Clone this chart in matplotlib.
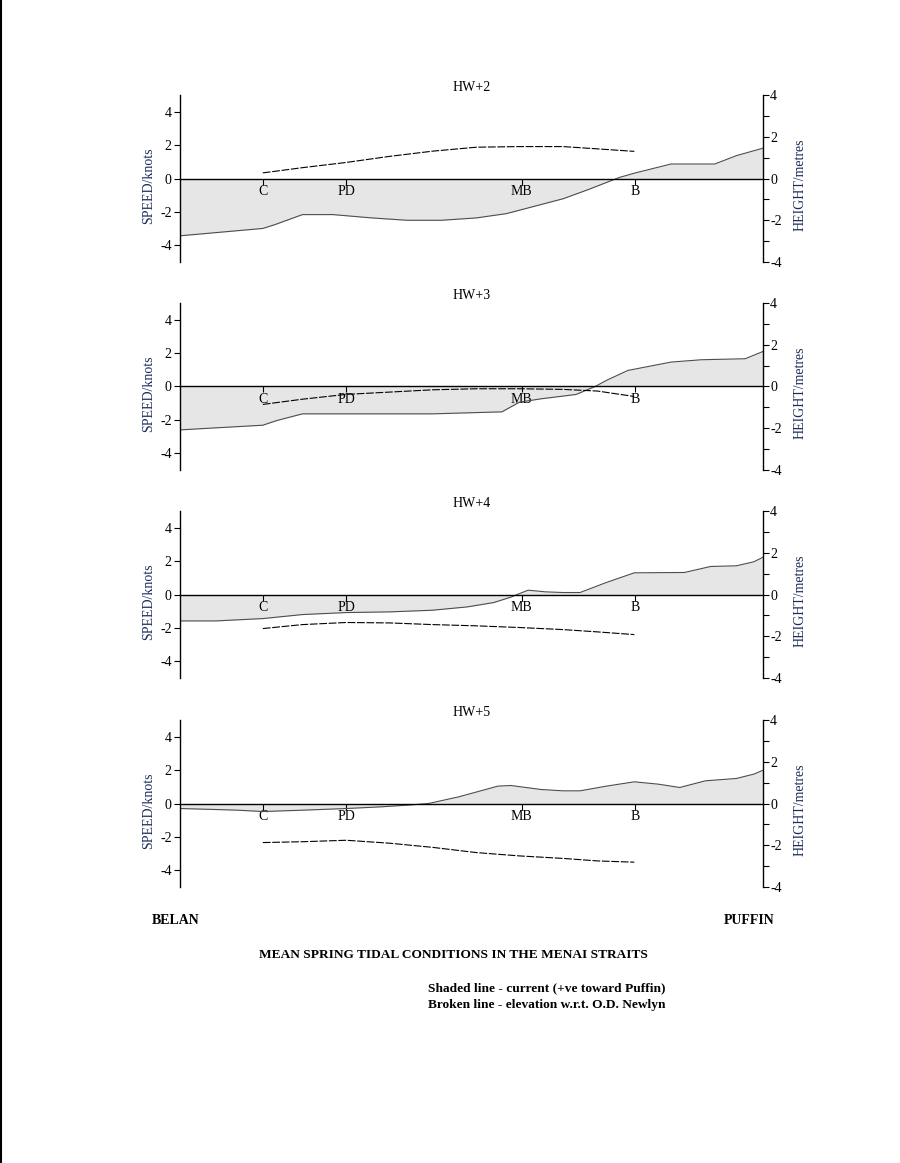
import matplotlib
matplotlib.use("Agg")
import matplotlib.pyplot as plt
from matplotlib.lines import Line2D

plt.rcParams["font.family"] = ["Liberation Serif", "DejaVu Serif"]
plt.rcParams["font.size"] = 10
plt.rcParams["axes.unicode_minus"] = False

# distance along the strait, 0 = Belan, 100 = Puffin
stations = ["C", "PD", "MB", "B"]
station_x = [14.2, 28.5, 58.6, 78.0]
titles = ["HW+2", "HW+3", "HW+4", "HW+5"]

# current (knots, +ve toward Puffin)
cur_x2 = [0, 14.2, 16.2, 21, 26.2, 32.9, 38.9, 44.8, 50.8, 56, 59.7, 65.7, 70.1, 75.3, 77.9, 84.2, 91.7, 95.4, 100]
cur_y2 = [-3.43, -2.99, -2.77, -2.16, -2.16, -2.36, -2.5, -2.5, -2.36, -2.1, -1.76, -1.21, -0.65, 0.06, 0.32, 0.87, 0.87, 1.37, 1.82]

cur_x3 = [0, 14.2, 16.6, 21, 28.5, 43.3, 55.2, 58.2, 61.9, 67.9, 71.2, 73.1, 76.8, 84.2, 89.4, 96.9, 100]
cur_y3 = [-2.6, -2.32, -2.04, -1.64, -1.64, -1.64, -1.52, -0.94, -0.74, -0.48, 0.0, 0.36, 0.96, 1.46, 1.6, 1.66, 2.1]

cur_x4 = [0, 6.2, 14.2, 21, 28.5, 35.9, 43.3, 49.3, 53.8, 56.7, 57.8, 59.7, 62.7, 65.7, 68.6, 73.1, 77.9, 86.5, 91, 95.4, 98.4, 100]
cur_y4 = [-1.58, -1.58, -1.44, -1.2, -1.08, -1.04, -0.94, -0.74, -0.48, -0.16, 0.0, 0.26, 0.16, 0.12, 0.12, 0.72, 1.3, 1.32, 1.68, 1.72, 1.96, 2.24]

cur_x5 = [0, 6.2, 9.9, 14.2, 21, 28.5, 34.4, 38.9, 42.6, 47.8, 54.5, 56.7, 61.9, 65.7, 68.6, 73.1, 77.9, 82, 85.7, 90.1, 95.4, 98.4, 100]
cur_y5 = [-0.3, -0.36, -0.4, -0.48, -0.4, -0.3, -0.2, -0.1, 0.0, 0.4, 1.04, 1.08, 0.84, 0.76, 0.76, 1.04, 1.3, 1.16, 0.96, 1.36, 1.5, 1.76, 2.0]

# elevation (metres w.r.t. O.D. Newlyn)
elev_x = [14.2, 21, 28.5, 35.9, 43.3, 50.8, 58.2, 65.7, 71.6, 77.9]
elev_y2 = [0.27, 0.52, 0.77, 1.06, 1.31, 1.5, 1.53, 1.53, 1.42, 1.30]
elev_y3 = [-0.86, -0.61, -0.38, -0.27, -0.16, -0.11, -0.11, -0.14, -0.22, -0.48]
elev_y4 = [-1.63, -1.44, -1.34, -1.36, -1.44, -1.5, -1.58, -1.68, -1.79, -1.92]
elev_y5 = [-1.87, -1.83, -1.76, -1.9, -2.1, -2.35, -2.51, -2.63, -2.75, -2.81]

cur_x = [cur_x2, cur_x3, cur_x4, cur_x5]
cur_y = [cur_y2, cur_y3, cur_y4, cur_y5]
elev_y = [elev_y2, elev_y3, elev_y4, elev_y5]

label_col = "#1c2b5a"

fig = plt.figure(figsize=(9, 11.63), dpi=100)
fig.patch.set_facecolor("white")

bottoms = [0.7747, 0.5959, 0.4170, 0.2373]
for i in range(4):
    ax = fig.add_axes([0.2, bottoms[i], 0.648, 0.1436])
    ax.fill_between(cur_x[i], 0, cur_y[i], color="#e6e6e6", lw=0)
    ax.plot(cur_x[i], cur_y[i], color="#4d4d4d", lw=0.8)
    ax.set_xlim(0, 100)
    ax.set_ylim(-5, 5)
    ax.set_yticks([-4, -2, 0, 2, 4])
    ax.spines["top"].set_visible(False)
    ax.spines["right"].set_visible(False)
    ax.spines["bottom"].set_position(("data", 0))
    ax.spines["bottom"].set_linewidth(1.0)
    ax.spines["left"].set_linewidth(1.0)
    ax.set_xticks(station_x)
    ax.set_xticklabels(stations)
    ax.tick_params(axis="x", length=4, pad=1, labelsize=10)
    ax.tick_params(axis="y", length=4, pad=2, labelsize=10)
    ax.set_title(titles[i], fontsize=10, pad=3)
    ax.set_ylabel("SPEED/knots", fontsize=10, color=label_col)
    ax.yaxis.set_label_coords(-0.043, 0.455)

    ax2 = ax.twinx()
    ax2.plot(elev_x, elev_y[i], color="black", lw=0.8, dashes=(7, 1.5))
    ax2.set_ylim(-4, 4)
    ax2.set_yticks(range(-4, 5))
    ax2.set_yticklabels([str(v) if v % 2 == 0 else "" for v in range(-4, 5)])
    ax2.tick_params(axis="y", length=4, pad=1, labelsize=10)
    for s in ["top", "left", "bottom"]:
        ax2.spines[s].set_visible(False)
    ax2.spines["right"].set_linewidth(1.0)
    ax2.set_ylabel("HEIGHT/metres", fontsize=10, color=label_col, rotation=90)
    ax2.yaxis.set_label_coords(1.052, 0.46)

fig.text(152 / 900, 1 - 921 / 1163, "BELAN", ha="left", va="center", fontsize=10, fontweight="bold")
fig.text(775 / 900, 1 - 921 / 1163, "PUFFIN", ha="right", va="center", fontsize=10, fontweight="bold")
fig.text(453 / 900, 1 - 955 / 1163, "MEAN SPRING TIDAL CONDITIONS IN THE MENAI STRAITS",
         ha="center", va="center", fontsize=9.6, fontweight="bold")
fig.text(666 / 900, 1 - 988 / 1163, "Shaded line - current (+ve toward Puffin)",
         ha="right", va="center", fontsize=9.6, fontweight="bold")
fig.text(666 / 900, 1 - 1005 / 1163, "Broken line - elevation w.r.t. O.D. Newlyn",
         ha="right", va="center", fontsize=9.6, fontweight="bold")

# page edge on the left
fig.add_artist(Line2D([0.001, 0.001], [0, 1], transform=fig.transFigure, color="black", lw=1.5))

fig.savefig("out.png", dpi=100)
